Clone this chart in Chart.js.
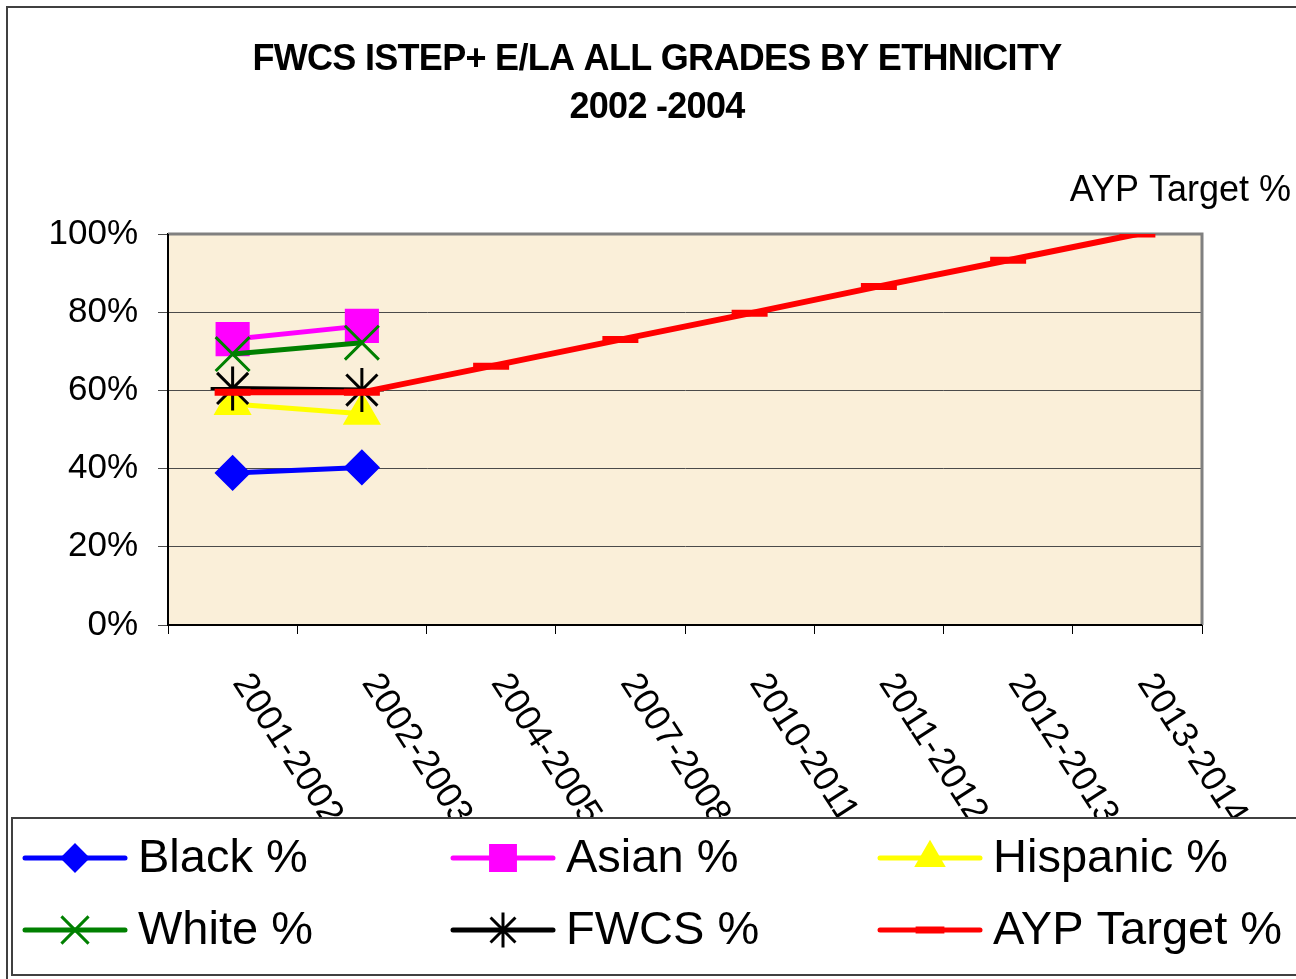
<!DOCTYPE html>
<html>
<head>
<meta charset="utf-8">
<title>FWCS ISTEP+ E/LA</title>
<script src="https://cdn.jsdelivr.net/npm/chart.js@4.4.1/dist/chart.umd.min.js"></script>
<style>
    html, body { margin: 0; padding: 0; background: #ffffff; }
    #wrap { position: relative; width: 1296px; height: 979px; }
</style>
</head>
<body>
<div id="wrap"><canvas id="ethnicityChart"></canvas></div>
<script>
// categories (school years) and series values, in percent
const categories = ['2001-2002', '2002-2003', '2004-2005', '2007-2008', '2010-2011', '2011-2012', '2012-2013', '2013-2014'];
const blackPct    = [38.9, 40.3, null, null, null, null, null, null];
const asianPct    = [73.1, 76.5, null, null, null, null, null, null];
const hispanicPct = [56.5, 54.0, null, null, null, null, null, null];
const whitePct    = [69.3, 72.2, null, null, null, null, null, null];
const fwcsPct     = [60.5, 60.1, null, null, null, null, null, null];
const aypPct      = [59.5, 59.5, 66.2, 73.0, 79.7, 86.6, 93.3, 100];
const yTicks      = [0, 20, 40, 60, 80, 100];
const titleLines  = ['FWCS ISTEP+ E/LA ALL GRADES BY ETHNICITY', '2002 -2004'];

const FONT = '"Liberation Sans", Arial, sans-serif';

function series(label, data, color, pointStyle, radius, order) {
    return {
        label: label,
        data: data,
        borderColor: color,
        backgroundColor: color,
        pointBackgroundColor: color,
        pointBorderColor: color,
        pointStyle: pointStyle,
        pointRadius: radius,
        pointBorderWidth: 3,
        borderWidth: 5,
        tension: 0,
        spanGaps: false,
        order: order
    };
}

const datasets = [
    series('Black %', blackPct, '#0000ff', 'rectRot', 16, 1),
    series('Asian %', asianPct, '#ff00ff', 'rect', 22, 6),
    series('Hispanic %', hispanicPct, '#ffff00', 'triangle', 19, 5),
    series('White %', whitePct, '#008000', 'crossRot', 24, 4),
    series('FWCS %', fwcsPct, '#000000', 'star', 22, 3),
    series('AYP Target %', aypPct, '#ff0000', 'line', 18, 2)
];
datasets[5].pointBorderWidth = 7;
datasets[5].borderWidth = 6;

// фон и рамки
const framePlugin = {
    id: 'frame',
    beforeDraw(chart) {
        const ctx = chart.ctx;
        const a = chart.chartArea;
        ctx.save();
        ctx.fillStyle = '#ffffff';
        ctx.fillRect(0, 0, chart.width, chart.height);
        // outer border
        ctx.strokeStyle = '#404040';
        ctx.lineWidth = 2;
        ctx.strokeRect(7, 7, chart.width + 20, chart.height + 20);
        // plot background
        ctx.fillStyle = '#faefd9';
        ctx.fillRect(a.left, a.top, a.right - a.left, a.bottom - a.top);
        ctx.restore();
    },
    beforeDatasetsDraw(chart) {
        const ctx = chart.ctx;
        const a = chart.chartArea;
        ctx.save();
        ctx.strokeStyle = '#808080';
        ctx.lineWidth = 3;
        ctx.beginPath();
        ctx.moveTo(a.left, a.top);
        ctx.lineTo(a.right, a.top);
        ctx.lineTo(a.right, a.bottom);
        ctx.stroke();
        ctx.strokeStyle = '#000000';
        ctx.lineWidth = 2;
        ctx.beginPath();
        ctx.moveTo(a.left, a.top);
        ctx.lineTo(a.left, a.bottom);
        ctx.lineTo(a.right, a.bottom);
        ctx.stroke();
        ctx.restore();
    },
    afterDraw(chart) {
        const ctx = chart.ctx;
        const xs = chart.scales.x;
        const ys = chart.scales.y;
        ctx.save();

        // title
        ctx.fillStyle = '#000000';
        ctx.textAlign = 'center';
        ctx.textBaseline = 'middle';
        ctx.font = 'bold 36px ' + FONT;
        if ('letterSpacing' in ctx) ctx.letterSpacing = '-0.7px';
        ctx.fillText(titleLines[0], 657, 60);
        ctx.fillText(titleLines[1], 657, 108);
        if ('letterSpacing' in ctx) ctx.letterSpacing = '0px';

        // rotated category labels
        ctx.font = '36px ' + FONT;
        ctx.textAlign = 'left';
        ctx.textBaseline = 'middle';
        categories.forEach((c, i) => {
            const px = xs.getPixelForValue(i);
            ctx.save();
            ctx.translate(px + 12, 684);
            ctx.rotate(57 * Math.PI / 180);
            ctx.fillText(c, -8, 0);
            ctx.restore();
        });

        // data label over last AYP point
        const last = aypPct.length - 1;
        ctx.font = '36px ' + FONT;
        ctx.textAlign = 'center';
        ctx.fillText(datasets[5].label, xs.getPixelForValue(last) + 43, ys.getPixelForValue(aypPct[last]) - 43);

        // legend box (covers the ends of the rotated labels)
        ctx.fillStyle = '#ffffff';
        ctx.fillRect(12, 818, chart.width, 157);
        ctx.strokeStyle = '#404040';
        ctx.lineWidth = 2;
        ctx.strokeRect(12, 818, chart.width + 20, 157);

        const colX = [25, 453, 880];
        const rowY = [858, 930];
        ctx.font = '47px ' + FONT;
        ctx.textBaseline = 'middle';
        ctx.textAlign = 'left';
        datasets.forEach((ds, i) => {
            const x0 = colX[i % 3];
            const y0 = rowY[Math.floor(i / 3)];
            ctx.strokeStyle = ds.borderColor;
            ctx.fillStyle = ds.borderColor;
            ctx.lineWidth = 5;
            ctx.lineCap = 'round';
            ctx.beginPath();
            ctx.moveTo(x0, y0);
            ctx.lineTo(x0 + 100, y0);
            ctx.stroke();
            ctx.lineCap = 'butt';
            ctx.lineWidth = ds.pointBorderWidth;
            if (Chart.helpers && Chart.helpers.drawPoint) {
                Chart.helpers.drawPoint(ctx, {
                    pointStyle: ds.pointStyle,
                    radius: ds.pointRadius * 0.8,
                    rotation: 0,
                    borderWidth: ds.pointBorderWidth
                }, x0 + 50, y0);
            }
            ctx.fillStyle = '#000000';
            ctx.fillText(ds.label, x0 + 113, y0 + 1);
        });
        ctx.restore();
    }
};

const ctx = document.getElementById('ethnicityChart').getContext('2d');
const ethnicityChart = new Chart(ctx, {
    type: 'line',
    data: {
        labels: categories,
        datasets: datasets
    },
    options: {
        responsive: true,
        maintainAspectRatio: false,
        animation: false,
        layout: {
            padding: { left: 0, top: 234, right: 94, bottom: 344 }
        },
        plugins: {
            legend: { display: false },
            title: { display: false },
            tooltip: { enabled: false }
        },
        scales: {
            x: {
                type: 'category',
                offset: true,
                grid: {
                    offset: true,
                    drawOnChartArea: false,
                    drawTicks: true,
                    tickLength: 9,
                    color: '#000000',
                    lineWidth: 1
                },
                border: { display: true, color: '#000000', width: 2 },
                ticks: { display: false },
                afterFit(scale) { scale.height = 10; }
            },
            y: {
                min: 0,
                max: 100,
                afterBuildTicks(scale) {
                    scale.ticks = yTicks.map(v => ({ value: v }));
                },
                grid: {
                    color: '#4a4a4a',
                    lineWidth: 1,
                    drawTicks: true,
                    tickLength: 10
                },
                border: { display: true, color: '#000000', width: 2 },
                ticks: {
                    color: '#000000',
                    padding: 20,
                    font: { family: FONT, size: 35 },
                    callback: v => v + '%'
                },
                afterFit(scale) { scale.width = 168; }
            }
        }
    },
    plugins: [framePlugin]
});
</script>
</body>
</html>
